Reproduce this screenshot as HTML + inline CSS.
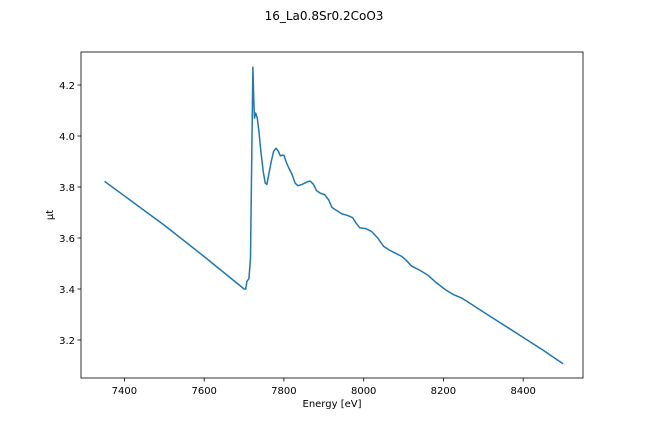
<!DOCTYPE html>
<html><head><meta charset="utf-8"><style>body{margin:0;background:#fff}svg{display:block;font-family:"DejaVu Sans","Liberation Sans",sans-serif}</style></head>
<body>
<svg width="648" height="432" viewBox="0 0 648 432">
<rect width="648" height="432" fill="#fff"/>
<text x="324" y="20" font-size="12" text-anchor="middle">16_La0.8Sr0.2CoO3</text>
<polyline fill="none" stroke="#1f77b4" stroke-width="1.5" vector-effect="non-scaling-stroke" stroke-linejoin="round"
transform="matrix(0.3988 0 0 -255 -2826.65 1156)"
points="7350,3.822 7400,3.765 7500,3.65 7600,3.527 7700,3.40 7704,3.40 7707,3.43 7712,3.44 7716,3.52 7719,3.9 7722,4.27 7724,4.15 7726,4.07 7729,4.09 7733,4.07 7737,4.02 7742,3.94 7748,3.86 7753,3.815 7757,3.81 7762,3.85 7768,3.90 7774,3.94 7780,3.952 7786,3.94 7791,3.922 7796,3.925 7800,3.924 7805,3.90 7812,3.875 7820,3.85 7828,3.815 7835,3.805 7845,3.81 7858,3.82 7866,3.823 7874,3.81 7882,3.785 7892,3.775 7902,3.77 7912,3.75 7920,3.72 7930,3.71 7945,3.695 7960,3.688 7972,3.68 7980,3.66 7990,3.64 8005,3.637 8020,3.625 8035,3.6 8050,3.567 8065,3.552 8080,3.54 8095,3.528 8105,3.515 8120,3.49 8140,3.474 8160,3.455 8180,3.427 8205,3.397 8225,3.378 8245,3.365 8270,3.34 8300,3.31 8350,3.26 8400,3.21 8450,3.16 8475,3.133 8500,3.107"/>
<rect x="81" y="52" width="502" height="326" fill="none" stroke="#000" stroke-width="0.8"/>
<g stroke="#000" stroke-width="0.8">
<line x1="124.4" y1="378" x2="124.4" y2="381.5"/><line x1="204.2" y1="378" x2="204.2" y2="381.5"/><line x1="283.9" y1="378" x2="283.9" y2="381.5"/><line x1="363.7" y1="378" x2="363.7" y2="381.5"/><line x1="443.4" y1="378" x2="443.4" y2="381.5"/><line x1="523.2" y1="378" x2="523.2" y2="381.5"/>
<line x1="77.5" y1="85" x2="81" y2="85"/><line x1="77.5" y1="136" x2="81" y2="136"/><line x1="77.5" y1="187" x2="81" y2="187"/><line x1="77.5" y1="238" x2="81" y2="238"/><line x1="77.5" y1="289" x2="81" y2="289"/><line x1="77.5" y1="340" x2="81" y2="340"/>
</g>
<g font-size="10" text-anchor="middle">
<text x="124.4" y="394">7400</text><text x="204.2" y="394">7600</text><text x="283.9" y="394">7800</text><text x="363.7" y="394">8000</text><text x="443.4" y="394">8200</text><text x="523.2" y="394">8400</text>
<text x="332" y="407">Energy [eV]</text>
</g>
<g font-size="10" text-anchor="end">
<text x="75" y="89">4.2</text><text x="75" y="140">4.0</text><text x="75" y="191">3.8</text><text x="75" y="242">3.6</text><text x="75" y="293">3.4</text><text x="75" y="344">3.2</text>
</g>
<text x="0" y="0" font-size="10" text-anchor="middle" transform="translate(53,215) rotate(-90)">μt</text>
</svg>
</body></html>
